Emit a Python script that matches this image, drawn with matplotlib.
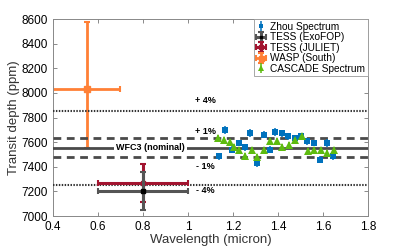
import numpy as np
import matplotlib.pyplot as plt

plt.rcParams['font.family'] = ['Liberation Sans', 'DejaVu Sans']

# Zhou et al. WFC3 spectrum
zhou_wl = [1.139, 1.166, 1.196, 1.225, 1.252, 1.277, 1.307, 1.337, 1.366, 1.389,
           1.419, 1.444, 1.474, 1.503, 1.530, 1.560, 1.585, 1.619, 1.644]
zhou_depth = [7487, 7698, 7538, 7593, 7560, 7674, 7430, 7660, 7538, 7682,
              7674, 7647, 7630, 7647, 7606, 7593, 7457, 7593, 7485]
zhou_err = [28, 30, 28, 28, 28, 30, 28, 28, 28, 30,
            28, 28, 28, 28, 28, 28, 28, 30, 30]

# CASCADE spectrum
cas_wl = [1.135, 1.160, 1.185, 1.205, 1.225, 1.255, 1.285, 1.307, 1.337, 1.366,
          1.396, 1.420, 1.448, 1.478, 1.505, 1.534, 1.560, 1.590, 1.619, 1.649]
cas_depth = [7631, 7620, 7600, 7560, 7538, 7485, 7538, 7480, 7538, 7606,
             7606, 7560, 7579, 7620, 7647, 7525, 7538, 7538, 7511, 7538]
cas_err = [25] * 20

# TESS and WASP points
tess_exo = (0.8, 7200, 0.2, 155)
tess_jul = (0.8, 7268, 0.2, 155)
wasp_x, wasp_y, wasp_xerr = 0.55, 8030, 0.15
wasp_yerr = [[480], [550]]

wfc3 = 7555
levels = [0.04, 0.01, -0.01, -0.04]
level_txt = ['+ 4%', '+ 1%', '- 1%', '- 4%']

c_blue = '#0072BD'
c_gray = '#4a4a4a'
c_red = '#A2142F'
c_orange = '#FF8036'
c_green = '#5DBB0F'

fig = plt.figure(figsize=(4.07, 2.48), dpi=100)
ax = fig.add_axes([0.130, 0.129, 0.774, 0.794])

ax.errorbar(zhou_wl, zhou_depth, yerr=zhou_err, fmt='s', color=c_blue, ms=4, mew=0,
            elinewidth=1.1, capsize=1.8, capthick=1.1, label='Zhou Spectrum', zorder=4)
ax.errorbar(tess_exo[0], tess_exo[1], xerr=tess_exo[2], yerr=tess_exo[3], fmt='s',
            color='#555555', mfc='k', mec='k', ms=2.5, elinewidth=2.2, capsize=2,
            capthick=1.5, label='TESS (ExoFOP)', zorder=5)
ax.errorbar(tess_jul[0], tess_jul[1], xerr=tess_jul[2], yerr=tess_jul[3], fmt='s',
            color=c_red, ms=3.5, elinewidth=2.2, capsize=2, capthick=1.5,
            label='TESS (JULIET)', zorder=4)
ax.errorbar(wasp_x, wasp_y, xerr=wasp_xerr, yerr=wasp_yerr, fmt='s', color=c_orange,
            ms=4.5, elinewidth=2, capsize=2, capthick=1.5, label='WASP (South)', zorder=2)
ax.errorbar(cas_wl, cas_depth, yerr=cas_err, fmt='^', color=c_green, ms=5.8, mew=0,
            elinewidth=1.1, capsize=1.8, capthick=1.1, label='CASCADE Spectrum', zorder=4)

ax.axhline(wfc3, color=c_gray, lw=2, zorder=3)
for lv in levels:
    if abs(lv) < 0.02:
        ax.axhline(wfc3 * (1 + lv), color=c_gray, lw=2, ls=(0, (2.8, 2)), zorder=3)
    else:
        ax.axhline(wfc3 * (1 + lv), color='#333333', lw=1.5, ls=(0, (0.7, 0.7)), zorder=3)

ax.text(0.832, wfc3, 'WFC3 (nominal)', fontsize=6.5, fontweight='bold',
        ha='center', va='center', zorder=6,
        bbox=dict(facecolor='white', edgecolor='none', pad=1.5))
offsets = [78, 60, -75, -42]
for lv, t, off in zip(levels, level_txt, offsets):
    ax.text(1.077, wfc3 * (1 + lv) + off, t, fontsize=6.5, fontweight='bold',
            ha='center', va='center')

ax.set_xlim(0.4, 1.8)
ax.set_ylim(7000, 8600)
ax.set_xticks(np.arange(0.4, 1.81, 0.2))
ax.set_xticklabels(['0.4', '0.6', '0.8', '1', '1.2', '1.4', '1.6', '1.8'])
ax.set_yticks(np.arange(7000, 8601, 200))
ax.tick_params(direction='in', top=True, right=True, labelsize=8.5, length=3,
               color='#777777', width=0.6)
for s in ax.spines.values():
    s.set_color('#888888')
    s.set_linewidth(0.7)
ax.set_xlabel('Wavelength (micron)', fontsize=9.5, color='#333333', labelpad=1)
ax.set_ylabel('Transit depth (ppm)', fontsize=9.5, color='#333333', labelpad=1)

leg = ax.legend(loc='upper right', fontsize=7.3, borderaxespad=0, fancybox=False,
                edgecolor='#999999', framealpha=1, handlelength=0.9,
                handletextpad=0.5, borderpad=0.25, labelspacing=0.05, markerscale=0.8)
leg.get_frame().set_linewidth(0.6)

fig.savefig('out.png', dpi=100)
